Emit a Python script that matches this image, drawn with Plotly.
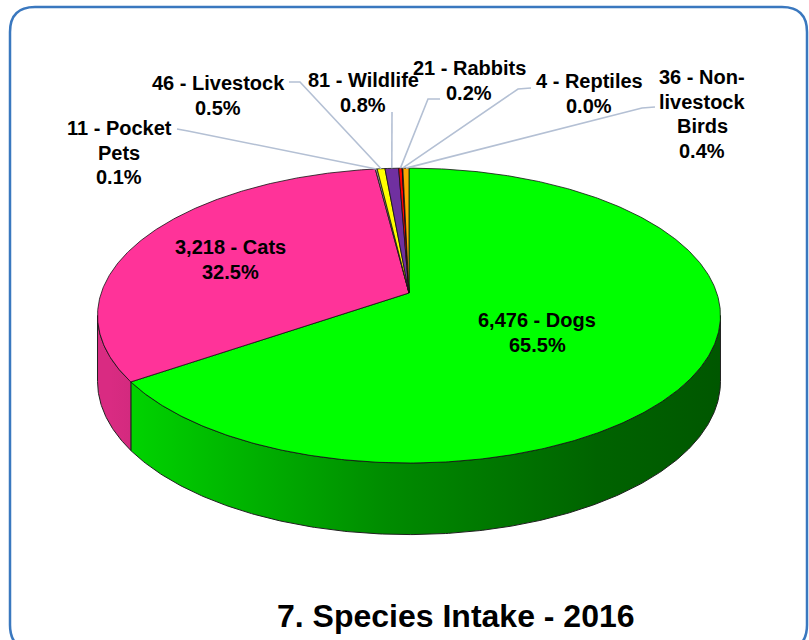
import numpy as np
import plotly.graph_objects as go

# ---------------- data ----------------
categories = ["Dogs", "Cats", "Pocket Pets", "Livestock", "Wildlife",
              "Rabbits", "Reptiles", "Non-livestock Birds"]
counts = [6476, 3218, 11, 46, 81, 21, 4, 36]
label_names = ["Dogs", "Cats", "Pocket<br>Pets", "Livestock", "Wildlife",
               "Rabbits", "Reptiles", "Non-<br>livestock<br>Birds"]
colors = ["#00ff00", "#ff3399", "#a6a6a6", "#ffff00", "#7030a0",
          "#ff0000", "#a00000", "#ffa500"]
title_text = "7. Species Intake - 2016"

# ---------------- layout constants (pixels) ----------------
W, Hh = 809, 640
CX, CY = 409.0, 293.0      # pie centre on screen
RX, RY = 307.8, 144.0      # radii of top face
K = 0.153                  # perspective factor
DEPTH = 65.0               # side height
FONT = "Liberation Sans, Arial, sans-serif"

# label placement: centre x, y of first line
label_pos = {
    "Dogs": (537, 320), "Cats": (230, 247), "Pocket Pets": (119, 128),
    "Livestock": (218, 83), "Wildlife": (363, 80), "Rabbits": (469, 68),
    "Reptiles": (589, 81), "Non-livestock Birds": (702, 77),
}
# leader lines: (x_start, y_start, x_elbow, y_elbow)
leader = {
    "Pocket Pets": (177, 129, 188, 131),
    "Livestock": (289, 82, 300, 82),
    "Wildlife": (392, 112, 392, 112),
    "Rabbits": (440, 99, 428, 99),
    "Reptiles": (531, 88, 518, 89),
    "Non-livestock Birds": (655, 107, 642, 108),
}
LINE_H = 24.5


def proj(theta_deg, depth=0.0):
    """theta measured clockwise from top (degrees)."""
    phi = np.radians(90.0 - np.asarray(theta_deg, dtype=float))
    den = 1.0 + K * np.sin(phi)
    x = CX + RX * np.cos(phi) / den
    y = CY - RY * np.sin(phi) / den + depth * DEPTH / (1.0 + 0.6 * K * np.sin(phi))
    return x, y


def hex_rgb(h):
    h = h.lstrip("#")
    return tuple(int(h[i:i + 2], 16) for i in (0, 2, 4))


def shade(hexc, f):
    r, g, b = hex_rgb(hexc)
    return "rgb(%d,%d,%d)" % (round(r * f), round(g * f), round(b * f))


total = float(sum(counts))
fracs = [c / total for c in counts]
cum = np.concatenate([[0.0], np.cumsum(fracs)])
theta0 = cum[:-1] * 360.0
theta1 = cum[1:] * 360.0

fig = go.Figure()

# visible side range (front)
t_sil = np.degrees(np.arcsin(K))
vis_a, vis_b = 90.0 + t_sil, 270.0 - t_sil

# ---------------- sides ----------------
for i in range(len(counts)):
    a, b = max(theta0[i], vis_a), min(theta1[i], vis_b)
    if b <= a:
        continue
    n = max(2, int(np.ceil((b - a) / 0.5)) + 1)
    ts = np.linspace(a, b, n)
    xt, yt = proj(ts, 0)
    xb, yb = proj(ts[::-1], 1)
    xs = list(xt) + list(xb) + [xt[0]]
    ys = list(yt) + list(yb) + [yt[0]]
    cs = [[0.0, shade(colors[i], 0.85)], [0.45, shade(colors[i], 0.55)],
          [0.8, shade(colors[i], 0.39)], [1.0, shade(colors[i], 0.34)]]
    fig.add_trace(go.Scatter(x=xs, y=ys, mode="lines", fill="toself",
                             fillgradient=dict(type="horizontal", colorscale=cs,
                                               start=110, stop=720),
                             line=dict(color="#202020", width=1),
                             hoverinfo="skip", showlegend=False))

# ---------------- top face ----------------
for i in range(len(counts)):
    n = max(2, int(np.ceil((theta1[i] - theta0[i]) / 0.5)) + 1)
    ts = np.linspace(theta0[i], theta1[i], n)
    xa, ya = proj(ts, 0)
    xs = [CX] + list(xa) + [CX]
    ys = [CY] + list(ya) + [CY]
    fig.add_trace(go.Scatter(x=xs, y=ys, mode="lines", fill="toself",
                             fillcolor=colors[i],
                             line=dict(color="#111111", width=0.8),
                             hoverinfo="skip", showlegend=False))

# ---------------- leader lines ----------------
for i, cat in enumerate(categories):
    if cat not in leader:
        continue
    xs0, ys0, xe, ye = leader[cat]
    tm = (theta0[i] + theta1[i]) / 2.0
    xr, yr = proj([tm], 0)
    fig.add_trace(go.Scatter(x=[xs0, xe, xr[0]], y=[ys0, ye, yr[0]], mode="lines",
                             line=dict(color="#b4c0d4", width=1.6),
                             hoverinfo="skip", showlegend=False))

# ---------------- labels ----------------
annotations = []
for i, cat in enumerate(categories):
    pct = 100.0 * counts[i] / total
    lines = ("%s - %s" % (format(counts[i], ","), label_names[i])).split("<br>")
    lines.append("%.1f%%" % pct)
    lx, ly = label_pos[cat]
    for k, ln in enumerate(lines):
        annotations.append(dict(x=lx, y=ly + k * LINE_H, xref="x", yref="y",
                                text="<b>%s</b>" % ln, showarrow=False,
                                xanchor="center", yanchor="middle",
                                font=dict(family=FONT, size=20, color="#000000")))

annotations.append(dict(x=456, y=616, xref="x", yref="y",
                        text="<b>%s</b>" % title_text, showarrow=False,
                        xanchor="center", yanchor="middle",
                        font=dict(family=FONT, size=32, color="#000000")))

border = ("M 35,7 L 782,7 Q 807,7 807,32 L 807,625 Q 807,650 782,650 "
          "L 35,650 Q 10,650 10,625 L 10,32 Q 10,7 35,7 Z")

fig.update_layout(
    width=W, height=Hh, margin=dict(l=0, r=0, t=0, b=0),
    paper_bgcolor="white", plot_bgcolor="white",
    xaxis=dict(range=[0, W], visible=False, fixedrange=True),
    yaxis=dict(range=[Hh, 0], visible=False, fixedrange=True),
    annotations=annotations,
    shapes=[dict(type="path", path=border, xref="x", yref="y",
                 line=dict(color="#3a78bf", width=2.5), layer="below")],
    showlegend=False,
)

fig.write_html("out.html", config={"displayModeBar": False},
               post_script="document.body.style.margin='0';document.body.style.overflow='hidden';")
